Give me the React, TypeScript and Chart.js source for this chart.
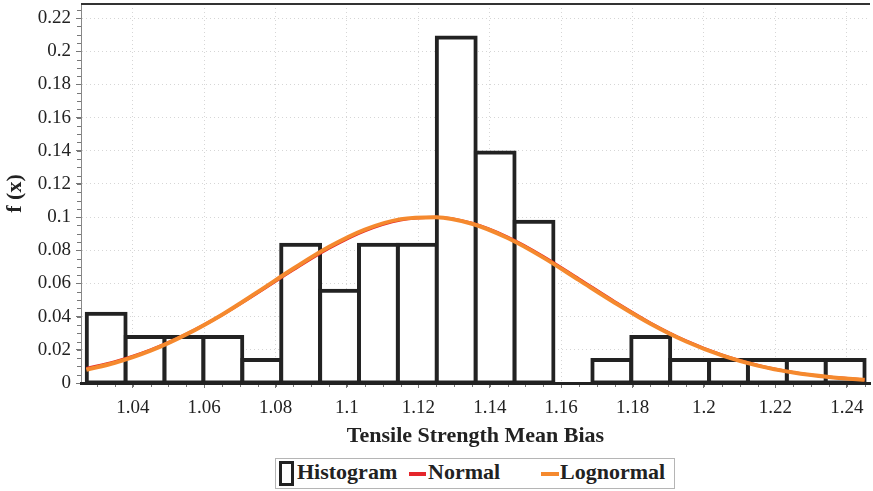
import React, { useEffect, useRef } from "react";
import { Chart, registerables } from "chart.js";

Chart.register(...registerables);

// Histogram bins (centres) and relative frequencies (N = 72)
const binCenters = [
  1.03255, 1.04344, 1.05434, 1.06523, 1.07613, 1.08702, 1.09792, 1.10881, 1.11971, 1.1306,
  1.1415, 1.15239, 1.16329, 1.17418, 1.18508, 1.19597, 1.20687, 1.21776, 1.22866, 1.23955,
];
const binHeights = [
  0.0417, 0.0278, 0.0278, 0.0278, 0.0139, 0.0833, 0.0556, 0.0833, 0.0833, 0.2083,
  0.1389, 0.0972, 0, 0.0139, 0.0278, 0.0139, 0.0139, 0.0139, 0.0139, 0.0139,
];

// Fitted curves
const curveX = [
  1.027, 1.035, 1.045, 1.055, 1.065, 1.075, 1.085, 1.095, 1.105, 1.115, 1.125, 1.135,
  1.145, 1.155, 1.165, 1.175, 1.185, 1.195, 1.205, 1.215, 1.225, 1.235, 1.245,
];
const normalY = [
  0.0088, 0.0129, 0.02, 0.0295, 0.0411, 0.0544, 0.0683, 0.0813, 0.0918, 0.0983, 0.0999, 0.0963,
  0.088, 0.0763, 0.0627, 0.049, 0.0362, 0.0254, 0.0169, 0.0107, 0.0064, 0.0036, 0.002,
];
const lognormalY = [
  0.008, 0.0122, 0.0195, 0.0293, 0.0412, 0.0549, 0.069, 0.0821, 0.0925, 0.0988, 0.1, 0.096,
  0.0874, 0.0756, 0.062, 0.0484, 0.0357, 0.025, 0.0166, 0.0105, 0.0063, 0.0036, 0.0019,
];

const xTicks = [1.04, 1.06, 1.08, 1.1, 1.12, 1.14, 1.16, 1.18, 1.2, 1.22, 1.24];
const yTicks = [0, 0.02, 0.04, 0.06, 0.08, 0.1, 0.12, 0.14, 0.16, 0.18, 0.2, 0.22];

const X_MIN = 1.0255;
const X_MAX = 1.2465;
const Y_MIN = 0;
const Y_MAX = 0.2285;
const MINOR_STEP = 0.005;

const RED = "#e5262b";
const ORANGE = "#f5892e";
const DARK = "#222222";
const FONT = "'Liberation Serif', 'Times New Roman', serif";

const fmt = (v: number) => String(parseFloat(Number(v).toFixed(4)));

const framePlugin = {
  id: "frameAndMinor",
  afterDatasetsDraw(chart: any) {
    const { ctx, chartArea, scales } = chart;
    const x = scales.x;
    const y = scales.y;
    ctx.save();
    // minor ticks
    ctx.strokeStyle = "#777";
    ctx.lineWidth = 1;
    for (let k = Math.ceil(x.min / MINOR_STEP); k * MINOR_STEP <= x.max + 1e-9; k++) {
      const px = Math.round(x.getPixelForValue(k * MINOR_STEP)) + 0.5;
      ctx.beginPath();
      ctx.moveTo(px, chartArea.bottom);
      ctx.lineTo(px, chartArea.bottom + 4);
      ctx.stroke();
    }
    for (let k = Math.ceil(y.min / MINOR_STEP); k * MINOR_STEP <= y.max + 1e-9; k++) {
      const py = Math.round(y.getPixelForValue(k * MINOR_STEP)) + 0.5;
      ctx.beginPath();
      ctx.moveTo(chartArea.left - 4, py);
      ctx.lineTo(chartArea.left, py);
      ctx.stroke();
    }
    // top frame
    ctx.strokeStyle = "#333";
    ctx.lineWidth = 2;
    ctx.beginPath();
    ctx.moveTo(chartArea.left, chartArea.top);
    ctx.lineTo(chartArea.right, chartArea.top);
    ctx.stroke();
    ctx.restore();
  },
};

export default function App() {
  const canvasRef = useRef<HTMLCanvasElement | null>(null);

  useEffect(() => {
    if (!canvasRef.current) return;
    const chart = new Chart(canvasRef.current, {
      data: {
        datasets: [
          {
            type: "bar",
            label: "Histogram",
            data: binCenters.map((c, i) => ({ x: c, y: binHeights[i] })),
            backgroundColor: "#ffffff",
            borderColor: DARK,
            borderWidth: 4,
            borderSkipped: false,
            inflateAmount: 2,
            barPercentage: 1,
            categoryPercentage: 1,
            order: 2,
          } as any,
          {
            type: "line",
            label: "Normal",
            data: curveX.map((c, i) => ({ x: c, y: normalY[i] })),
            borderColor: RED,
            backgroundColor: RED,
            borderWidth: 3,
            pointRadius: 0,
            cubicInterpolationMode: "monotone",
            order: 1,
          } as any,
          {
            type: "line",
            label: "Lognormal",
            data: curveX.map((c, i) => ({ x: c, y: lognormalY[i] })),
            borderColor: ORANGE,
            backgroundColor: ORANGE,
            borderWidth: 4,
            pointRadius: 0,
            cubicInterpolationMode: "monotone",
            order: 0,
          } as any,
        ],
      },
      options: {
        responsive: false,
        animation: false,
        layout: { padding: { top: 4, right: 3, left: 0, bottom: 0 } },
        plugins: { legend: { display: false }, tooltip: { enabled: false } },
        scales: {
          x: {
            type: "linear",
            offset: false,
            min: X_MIN,
            max: X_MAX,
            afterBuildTicks: (scale: any) => {
              scale.ticks = xTicks.map((v) => ({ value: v }));
            },
            afterFit: (scale: any) => {
              scale.height = 72;
              scale.paddingLeft = 0;
              scale.paddingRight = 0;
            },
            ticks: {
              autoSkip: false,
              maxRotation: 0,
              padding: 9,
              color: DARK,
              font: { family: FONT, size: 19 },
              callback: (v: any) => fmt(v),
            },
            grid: {
              offset: false,
              color: "#d6d6d6",
              lineWidth: 1,
              tickLength: 5,
              tickColor: "#777",
            },
            border: { color: DARK, width: 3, z: 1, dash: [1, 3] },
            title: {
              display: true,
              text: "Tensile Strength Mean Bias",
              color: DARK,
              font: { family: FONT, size: 22, weight: "bold" },
              padding: { top: 2, bottom: 5 },
            },
          } as any,
          y: {
            type: "linear",
            min: Y_MIN,
            max: Y_MAX,
            afterBuildTicks: (scale: any) => {
              scale.ticks = yTicks.map((v) => ({ value: v }));
            },
            afterFit: (scale: any) => {
              scale.width = 81;
              scale.paddingTop = 0;
              scale.paddingBottom = 0;
            },
            ticks: {
              padding: 5,
              color: DARK,
              font: { family: FONT, size: 19 },
              callback: (v: any) => fmt(v),
            },
            grid: {
              color: "#d6d6d6",
              lineWidth: 1,
              tickLength: 5,
              tickColor: "#777",
            },
            border: { color: "#888", width: 1, dash: [1, 3] },
            title: {
              display: true,
              text: "f (x)",
              color: DARK,
              font: { family: FONT, size: 22, weight: "bold" },
              padding: { top: 2, bottom: 0 },
            },
          } as any,
        },
      },
      plugins: [framePlugin],
    });
    return () => chart.destroy();
  }, []);

  const legendText: React.CSSProperties = {
    position: "absolute",
    top: 0,
    height: 29,
    lineHeight: "29px",
    font: `bold 22px ${FONT}`,
    color: DARK,
    whiteSpace: "nowrap",
  };

  return (
    <div
      style={{
        position: "fixed",
        left: 0,
        top: 0,
        width: 873,
        height: 491,
        background: "#ffffff",
        overflow: "hidden",
      }}
    >
      <canvas ref={canvasRef} width={873} height={455} style={{ display: "block", width: 873, height: 455 }} />
      <div
        style={{
          position: "absolute",
          left: 275,
          top: 458,
          width: 400,
          height: 31,
          border: "1px solid #b5b5b5",
          boxSizing: "border-box",
        }}
      >
        <span
          style={{
            position: "absolute",
            left: 3,
            top: 2,
            width: 15,
            height: 25,
            border: `3.5px solid ${DARK}`,
            boxSizing: "border-box",
          }}
        />
        <span style={{ ...legendText, left: 21 }}>Histogram</span>
        <span style={{ position: "absolute", left: 133, top: 13, width: 17, height: 4, background: RED }} />
        <span style={{ ...legendText, left: 152 }}>Normal</span>
        <span style={{ position: "absolute", left: 265, top: 13, width: 18, height: 4, background: ORANGE }} />
        <span style={{ ...legendText, left: 284 }}>Lognormal</span>
      </div>
    </div>
  );
}
